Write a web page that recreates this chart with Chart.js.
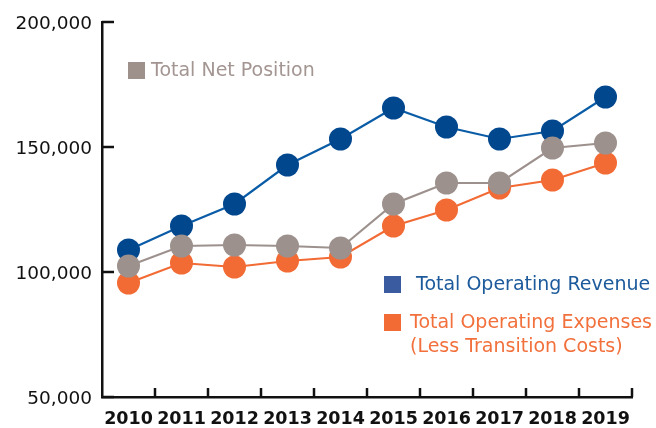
<!DOCTYPE html>
<html>
<head>
<meta charset="utf-8">
<script src="https://cdn.jsdelivr.net/npm/chart.js@4"></script>
<style>
  html, body { margin: 0; padding: 0; background: #fff; }
  #wrap { position: relative; width: 656px; height: 428px; }
</style>
</head>
<body>
<div id="wrap"><canvas id="lineChart" width="656" height="428"></canvas></div>
<script>
// data
const years = ["2010", "2011", "2012", "2013", "2014", "2015", "2016", "2017", "2018", "2019"];
const operatingRevenue = [108800, 118400, 127200, 142800, 153200, 165600, 158000, 153200, 156400, 170000];
const netPosition = [102400, 110400, 110800, 110400, 109600, 127200, 135600, 135600, 149600, 151600];
const operatingExpenses = [95600, 103600, 102000, 104400, 106000, 118400, 124800, 133600, 136800, 143600];
const yTicks = [50000, 100000, 150000, 200000];

const BLUE = "#00478e", BLUE_LINE = "#0b5ca6";
const GRAY = "#9d918d";
const ORANGE = "#f26b35";

// inward tick marks + custom legend
const decorPlugin = {
    id: "decor",
    afterDraw(chart) {
        const ctx = chart.ctx;
        const x = chart.scales.x, y = chart.scales.y;
        ctx.save();
        ctx.strokeStyle = "#111";
        ctx.lineWidth = 2.5;
        // y ticks pointing into the plot
        yTicks.forEach(v => {
            const py = Math.round(y.getPixelForValue(v));
            ctx.beginPath();
            ctx.moveTo(x.left, py);
            ctx.lineTo(x.left + 12, py);
            ctx.stroke();
        });
        // x ticks at category boundaries
        for (let i = 1; i <= years.length; i++) {
            const px = Math.round(x.getPixelForValue(i - 0.5));
            ctx.beginPath();
            ctx.moveTo(px, y.bottom);
            ctx.lineTo(px, y.bottom - 9);
            ctx.stroke();
        }

        // legend
        ctx.font = "19px 'DejaVu Sans'";
        ctx.textBaseline = "middle";
        ctx.textAlign = "left";
        const items = [
            { box: "#9e908b", color: "#a39591", x: 128, y: 62, lines: ["Total Net Position"], tx: 151 },
            { box: "#3b5ba0", color: "#1c5a9c", x: 384, y: 276, lines: ["Total Operating Revenue"], tx: 416 },
            { box: ORANGE, color: "#f2703c", x: 384, y: 314, lines: ["Total Operating Expenses", "(Less Transition Costs)"], tx: 410 }
        ];
        items.forEach(it => {
            ctx.fillStyle = it.box;
            ctx.fillRect(it.x, it.y, 17, 17);
            ctx.fillStyle = it.color;
            it.lines.forEach((t, k) => ctx.fillText(t, it.tx, it.y + 9 + k * 24));
        });
        ctx.restore();
    }
};

const ctx = document.getElementById("lineChart").getContext("2d");

const lineChart = new Chart(ctx, {
    type: 'line',
    data: {
        labels: years,
        datasets: [
            {
                label: 'Total Net Position',
                data: netPosition,
                borderColor: GRAY,
                backgroundColor: GRAY,
                pointBackgroundColor: GRAY,
                order: 1
            },
            {
                label: 'Total Operating Expenses (Less Transition Costs)',
                data: operatingExpenses,
                borderColor: ORANGE,
                backgroundColor: ORANGE,
                pointBackgroundColor: ORANGE,
                order: 2
            },
            {
                label: 'Total Operating Revenue',
                data: operatingRevenue,
                borderColor: BLUE_LINE,
                backgroundColor: BLUE,
                pointBackgroundColor: BLUE,
                order: 3
            }
        ]
    },
    options: {
        responsive: false,
        animation: false,
        devicePixelRatio: 1,
        layout: { padding: { top: 22, right: 24, left: 0, bottom: 0 } },
        elements: {
            line: { borderWidth: 2.2, tension: 0 },
            point: { radius: 11.5, borderWidth: 0, hoverRadius: 11.5 }
        },
        plugins: {
            legend: { display: false },
            tooltip: { enabled: false }
        },
        scales: {
            x: {
                offset: true,
                grid: { display: false, drawTicks: false },
                border: { display: true, color: "#111", width: 2.5 },
                ticks: {
                    color: "#111",
                    padding: 12,
                    font: { family: "DejaVu Sans", size: 17.5, weight: "bold" },
                    maxRotation: 0
                },
                afterFit(scale) { scale.height = 31; }
            },
            y: {
                min: 50000,
                max: 200000,
                grid: { display: false, drawTicks: false },
                border: { display: true, color: "#111", width: 2.5 },
                afterBuildTicks(scale) { scale.ticks = yTicks.map(v => ({ value: v })); },
                ticks: {
                    color: "#111",
                    padding: 10,
                    labelOffset: 2,
                    font: { family: "DejaVu Sans", size: 18.5 },
                    callback: v => v.toLocaleString("en-US")
                },
                afterFit(scale) { scale.width = 102; }
            }
        }
    },
    plugins: [decorPlugin]
});
</script>
</body>
</html>
